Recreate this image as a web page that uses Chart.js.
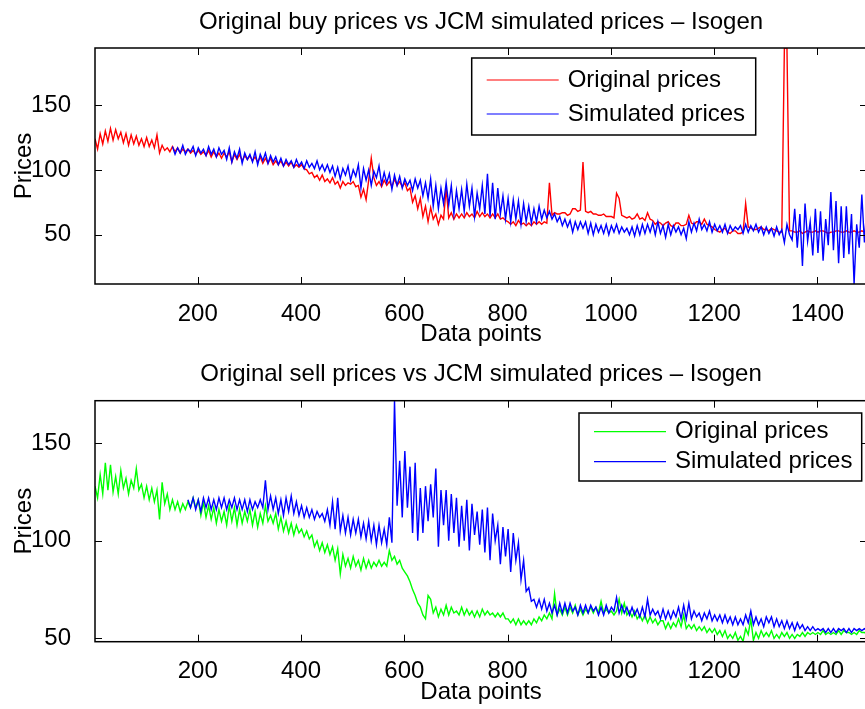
<!DOCTYPE html>
<html>
<head>
<meta charset="utf-8">
<title>Isogen prices</title>
<script src="https://cdn.jsdelivr.net/npm/chart.js@4.4.0/dist/chart.umd.min.js"></script>
<style>
  html, body { margin: 0; padding: 0; background: #fff; overflow: hidden; }
  canvas { display: block; }
</style>
</head>
<body>
<canvas id="buyChart" width="870" height="355"></canvas>
<canvas id="sellChart" width="870" height="354"></canvas>
<script>
// every series is sampled once every 5 data points
const sampleStep = 5;
const xTicks = [200, 400, 600, 800, 1000, 1200, 1400];
const buyTicks = [50, 100, 150];
const sellTicks = [50, 100, 150];

// buy prices, original (points 1..1496, one row per 100 points)
const buyOriginalStart = 1;
const buyOriginal = [
  124, 116, 128, 120, 130, 122, 132, 123, 131, 124, 129, 121, 128, 119, 127, 120, 126, 119, 124, 118,
  125, 118, 123, 117, 127, 113, 119, 115, 117, 114, 118, 114, 117, 113, 116, 114, 116, 113, 115, 112,
  115, 112, 114, 111, 115, 110, 114, 110, 113, 109, 113, 110, 114, 106, 112, 108, 112, 107, 111, 108,
  111, 107, 110, 106, 110, 105, 109, 105, 109, 104, 107, 104, 107, 103, 106, 103, 106, 102, 104, 102,
  104, 101, 100, 97, 98, 94, 96, 92, 96, 91, 93, 90, 94, 89, 91, 86, 91, 88, 90, 89,
  91, 87, 88, 79, 85, 77, 92, 109, 94, 88, 91, 87, 92, 88, 91, 87, 93, 88, 91, 87,
  90, 84, 86, 75, 80, 70, 78, 64, 72, 60, 71, 62, 66, 58, 65, 62, 86, 63, 67, 62,
  66, 63, 66, 63, 67, 64, 66, 63, 68, 64, 67, 64, 66, 63, 66, 63, 66, 62, 63, 61,
  60, 58, 60, 57, 61, 58, 59, 57, 59, 57, 60, 58, 60, 58, 60, 59, 90, 65, 67, 66,
  66, 67, 67, 65, 66, 70, 70, 68, 69, 106, 68, 67, 68, 66, 66, 65, 65, 66, 64, 64,
  64, 63, 82, 78, 65, 64, 63, 64, 62, 63, 66, 62, 63, 61, 67, 62, 61, 58, 60, 59,
  57, 59, 60, 57, 56, 59, 59, 57, 57, 58, 65, 59, 58, 60, 60, 58, 62, 58, 57, 56,
  54, 53, 52, 54, 55, 52, 51, 53, 53, 51, 51, 52, 74, 56, 55, 54, 54, 55, 56, 54,
  54, 53, 55, 54, 53, 52, 52, 194, 194, 53, 53, 52, 52, 53, 51, 52, 53, 52, 52, 53,
  52, 53, 53, 52, 51, 52, 52, 53, 53, 52, 52, 53, 52, 52, 53, 52, 52, 53, 52, 52
];

// buy prices, JCM simulated (points 151..1496)
const buySimulatedStart = 151;
const buySimulated = [
  118, 112, 117, 113, 119, 112, 116, 114, 118, 111, 117, 113, 116, 111, 118, 112, 116, 110, 117, 112,
  115, 108, 117, 106, 114, 109, 116, 105, 113, 108, 112, 106, 114, 104, 112, 107, 113, 105, 111, 106,
  110, 104, 109, 103, 108, 104, 107, 102, 108, 103, 106, 101, 107, 102, 105, 101, 107, 100, 104, 99,
  104, 98, 103, 95, 102, 93, 101, 96, 103, 92, 100, 95, 104, 86, 101, 92, 100, 88, 99, 94,
  103, 89, 98, 90, 97, 85, 96, 88, 95, 86, 93, 88, 92, 84, 93, 86, 92, 80, 90, 78,
  93, 72, 88, 70, 86, 74, 90, 73, 88, 66, 84, 70, 85, 68, 89, 72, 86, 64, 82, 70,
  88, 66, 97, 64, 90, 62, 86, 66, 80, 62, 78, 60, 77, 62, 76, 58, 74, 60, 72, 59,
  70, 60, 72, 62, 69, 63, 68, 62, 66, 60, 64, 57, 62, 56, 61, 52, 60, 54, 60, 55,
  60, 51, 59, 50, 58, 52, 57, 51, 58, 50, 57, 52, 58, 51, 56, 52, 55, 50, 56, 49,
  57, 50, 58, 51, 58, 52, 59, 50, 60, 51, 57, 48, 58, 50, 57, 52, 56, 50, 55, 47,
  60, 52, 59, 53, 62, 54, 58, 53, 60, 52, 58, 53, 57, 52, 58, 51, 57, 53, 56, 54,
  57, 51, 58, 52, 57, 53, 58, 52, 56, 50, 56, 51, 55, 49, 56, 50, 54, 44, 58, 50,
  46, 70, 40, 66, 26, 74, 45, 60, 34, 70, 36, 68, 30, 62, 42, 83, 38, 76, 28, 72,
  32, 72, 35, 66, 12, 58, 40, 81, 44, 74
];

// sell prices, original (points 1..1496)
const sellOriginalStart = 1;
const sellOriginal = [
  128, 122, 134, 124, 140, 126, 139, 125, 133, 124, 136, 127, 132, 124, 131, 127, 137, 126, 129, 122,
  128, 121, 127, 120, 126, 111, 130, 119, 124, 116, 121, 116, 120, 115, 119, 116, 120, 117, 122, 117,
  121, 113, 120, 112, 118, 111, 117, 109, 116, 110, 115, 108, 118, 110, 117, 108, 116, 109, 115, 110,
  116, 108, 115, 107, 114, 109, 118, 110, 113, 109, 114, 106, 112, 105, 110, 104, 109, 103, 108, 104,
  106, 102, 105, 101, 103, 97, 100, 95, 99, 94, 98, 93, 97, 90, 96, 83, 93, 87, 91, 86,
  92, 87, 90, 85, 91, 86, 90, 86, 89, 87, 90, 87, 89, 87, 95, 90, 92, 88, 90, 86,
  84, 82, 79, 75, 72, 68, 66, 62, 60, 72, 70, 63, 66, 61, 65, 62, 67, 62, 66, 63,
  64, 62, 66, 62, 65, 62, 64, 61, 64, 61, 65, 62, 64, 62, 63, 61, 63, 61, 63, 60,
  60, 58, 60, 57, 60, 57, 59, 57, 59, 57, 60, 58, 61, 59, 62, 60, 63, 60, 73, 62,
  65, 62, 66, 62, 66, 63, 67, 62, 65, 62, 65, 63, 66, 63, 66, 63, 69, 63, 65, 63,
  64, 62, 64, 70, 63, 68, 62, 64, 61, 64, 60, 62, 59, 62, 58, 61, 58, 60, 57, 59,
  59, 55, 58, 55, 58, 56, 60, 56, 62, 55, 57, 55, 57, 54, 56, 54, 56, 53, 55, 53,
  55, 52, 54, 51, 54, 50, 52, 50, 53, 49, 51, 48.5, 55, 52, 60, 49, 53, 50, 54, 51,
  53, 51, 54, 50, 52, 50, 53, 51, 53, 50, 52, 50, 52, 51, 53, 51, 53, 52, 53, 52,
  53, 52, 54, 52, 53, 52, 53, 52, 54, 52, 54, 53, 53, 52, 53, 52, 54, 53, 53, 52
];

// sell prices, JCM simulated (points 181..1496)
const sellSimulatedStart = 181;
const sellSimulated = [
  121, 117, 122, 116, 121, 115, 122, 117, 122, 116, 121, 116, 122, 117, 122, 116, 121, 117, 122, 116,
  121, 116, 121, 115, 121, 116, 120, 117, 121, 117, 131, 116, 123, 116, 122, 114, 121, 113, 122, 115,
  123, 114, 120, 113, 118, 112, 117, 112, 116, 111, 115, 112, 114, 110, 116, 108, 120, 106, 122, 105,
  113, 104, 112, 103, 111, 104, 111, 102, 109, 101, 110, 100, 108, 98, 108, 99, 106, 98, 112, 99,
  172, 118, 141, 112, 146, 117, 138, 104, 140, 100, 127, 104, 128, 110, 129, 112, 137, 97, 126, 108,
  126, 100, 124, 104, 122, 97, 118, 100, 121, 95, 119, 103, 115, 98, 116, 94, 117, 90, 114, 100,
  108, 88, 107, 92, 106, 84, 104, 90, 99, 80, 90, 74, 76, 69, 70, 66, 70, 65, 70, 64,
  68, 63, 67, 62, 68, 63, 68, 63, 68, 64, 66, 62, 67, 63, 67, 63, 67, 64, 66, 62,
  66, 62, 67, 63, 66, 64, 71, 63, 67, 63, 66, 62, 66, 62, 65, 61, 66, 61, 70, 62,
  65, 62, 64, 60, 65, 60, 64, 60, 64, 61, 66, 60, 67, 60, 68, 60, 64, 61, 63, 59,
  63, 60, 64, 59, 62, 59, 62, 58, 62, 58, 61, 57, 61, 57, 60, 57, 62, 58, 64, 57,
  61, 57, 60, 56, 61, 58, 61, 56, 60, 56, 59, 55, 59, 55, 58, 54, 58, 55, 57, 54,
  56, 54, 56, 54, 55, 54, 55, 53, 55, 53, 55, 53, 55, 54, 55, 53, 55, 53, 55, 54,
  55, 54, 55, 54
];

const FONT_FAMILY = '"Liberation Sans", Arial, Helvetica, sans-serif';
const font = { family: FONT_FAMILY, size: 24, weight: 'normal' };

function toPoints(start, values) {
  return values.map((v, i) => ({ x: start + i * sampleStep, y: v }));
}

// axes box with inward tick marks on all four sides
const axesBox = {
  id: 'axesBox',
  afterDatasetsDraw(chart) {
    const { ctx, chartArea: a, scales } = chart;
    const len = 7;
    ctx.save();
    ctx.strokeStyle = '#000';
    ctx.lineWidth = 1;
    ctx.beginPath();
    scales.x.ticks.forEach(t => {
      const px = Math.round(scales.x.getPixelForValue(t.value)) + 0.5;
      ctx.moveTo(px, a.bottom); ctx.lineTo(px, a.bottom - len);
      ctx.moveTo(px, a.top); ctx.lineTo(px, a.top + len);
    });
    scales.y.ticks.forEach(t => {
      const py = Math.round(scales.y.getPixelForValue(t.value)) + 0.5;
      ctx.moveTo(a.left, py); ctx.lineTo(a.left + len, py);
      ctx.moveTo(a.right, py); ctx.lineTo(a.right - len, py);
    });
    ctx.stroke();
    ctx.lineWidth = 1.5;
    ctx.strokeRect(a.left, a.top, a.right - a.left, a.bottom - a.top);
    ctx.restore();
  }
};

// boxed legend placed inside the plot
const boxLegend = {
  id: 'boxLegend',
  afterDraw(chart, args, opts) {
    const { ctx } = chart;
    ctx.save();
    ctx.fillStyle = '#fff';
    ctx.fillRect(opts.x, opts.y, opts.w, opts.h);
    ctx.strokeStyle = '#000';
    ctx.lineWidth = 1.5;
    ctx.strokeRect(opts.x, opts.y, opts.w, opts.h);
    ctx.font = '24px ' + FONT_FAMILY;
    ctx.textBaseline = 'middle';
    ctx.textAlign = 'left';
    chart.data.datasets.forEach((ds, i) => {
      const y = opts.y + opts.firstRow + i * opts.rowGap;
      ctx.strokeStyle = ds.borderColor;
      ctx.lineWidth = 1.2;
      ctx.beginPath();
      ctx.moveTo(opts.x + 15, y);
      ctx.lineTo(opts.x + 87, y);
      ctx.stroke();
      ctx.fillStyle = '#000';
      ctx.fillText(ds.label, opts.x + 96, y);
    });
    ctx.restore();
  }
};

function makeChart(id, cfg) {
  return new Chart(document.getElementById(id), {
    type: 'line',
    data: {
      datasets: [
        { label: 'Original prices', data: cfg.original, borderColor: cfg.color, order: 1 },
        { label: 'Simulated prices', data: cfg.simulated, borderColor: '#0000ff', order: 0 }
      ]
    },
    options: {
      responsive: false,
      animation: false,
      devicePixelRatio: 1,
      parsing: false,
      normalized: true,
      layout: { padding: { right: 3 } },
      elements: {
        point: { radius: 0 },
        line: { borderWidth: 1.4, tension: 0, fill: false }
      },
      scales: {
        x: {
          type: 'linear',
          min: 1,
          max: 1496,
          grid: { display: false },
          border: { display: false },
          afterBuildTicks: s => { s.ticks = xTicks.map(v => ({ value: v })); },
          afterFit: s => { s.height = cfg.xAxisHeight; },
          ticks: { font, color: '#000', padding: 7.5, maxRotation: 0, autoSkip: false, callback: v => String(v) },
          title: { display: true, text: 'Data points', font, color: '#000', padding: { top: 0, bottom: cfg.xTitlePad } }
        },
        y: {
          type: 'linear',
          min: cfg.yMin,
          max: cfg.yMax,
          grid: { display: false },
          border: { display: false },
          afterBuildTicks: s => { s.ticks = cfg.yTicks.map(v => ({ value: v })); },
          afterFit: s => { s.width = 95; },
          ticks: { font, color: '#000', padding: 16, callback: v => String(v) },
          title: { display: true, text: 'Prices', font, color: '#000', padding: { top: 10, bottom: 0 } }
        }
      },
      plugins: {
        legend: { display: false },
        tooltip: { enabled: false },
        title: {
          display: true,
          text: cfg.title,
          fullSize: false,
          font,
          color: '#000',
          padding: cfg.titlePad
        },
        boxLegend: cfg.legend
      }
    },
    plugins: [axesBox, boxLegend]
  });
}

makeChart('buyChart', {
  title: 'Original buy prices vs JCM simulated prices \u2013 Isogen',
  original: toPoints(buyOriginalStart, buyOriginal),
  simulated: toPoints(buySimulatedStart, buySimulated),
  color: '#ff0000',
  yMin: 12, yMax: 194, yTicks: buyTicks,
  titlePad: { top: 7.6, bottom: 11.6 },
  xAxisHeight: 71, xTitlePad: 6,
  legend: { x: 471.7, y: 58, w: 284, h: 77, firstRow: 22, rowGap: 34 }
});

makeChart('sellChart', {
  title: 'Original sell prices vs JCM simulated prices \u2013 Isogen',
  original: toPoints(sellOriginalStart, sellOriginal),
  simulated: toPoints(sellSimulatedStart, sellSimulated),
  color: '#00ff00',
  yMin: 48.3, yMax: 171.8, yTicks: sellTicks,
  titlePad: { top: 5, bottom: 11.9 },
  xAxisHeight: 67.3, xTitlePad: 2,
  legend: { x: 579, y: 58, w: 282.7, h: 68, firstRow: 18.7, rowGap: 30 }
});
</script>
</body>
</html>
